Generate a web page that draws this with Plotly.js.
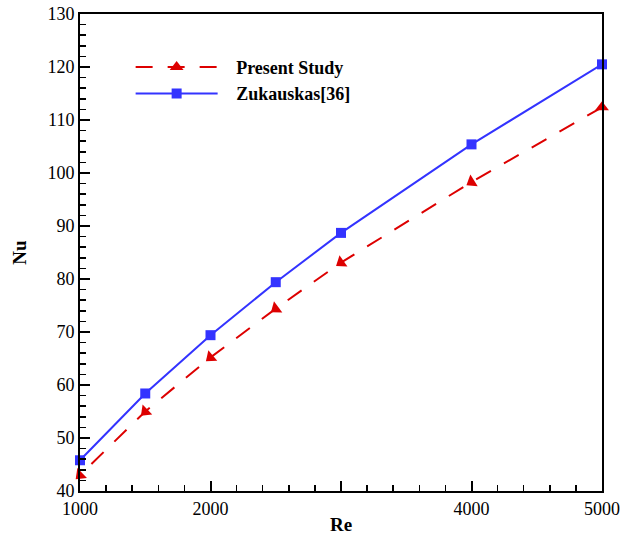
<!DOCTYPE html>
<html>
<head>
<meta charset="utf-8">
<script src="https://cdn.plot.ly/plotly-3.0.1.min.js"></script>
<style>html,body{margin:0;padding:0;background:#fff;}#chart{width:622px;height:536px;}</style>
</head>
<body>
<div id="chart"></div>
<script>
const reValues = [1000, 1500, 2000, 2500, 3000, 4000, 5000];
const presentStudy = [43.0, 55.0, 65.2, 74.4, 83.1, 98.3, 112.4];
const zukauskas = [45.8, 58.4, 69.4, 79.4, 88.7, 105.4, 120.5];
const seriesNames = ["Present Study", "Zukauskas[36]"];
const xTicks = [1000, 2000, 3000, 4000, 5000];
const xTickText = ["1000", "2000", "", "4000", "5000"];
const yTicks = [40, 50, 60, 70, 80, 90, 100, 110, 120, 130];
// marker rotation (style only): arrows point back along the dashed line, last one upright
const triangleAngles = [226, 226, 230, 233, 235, 238, 0];

const rev = a => a.slice().reverse();
const pad = '\u00a0'.repeat(3);

const traces = [
  {
    x: rev(reValues), y: rev(presentStudy), name: pad + seriesNames[0],
    type: 'scatter', mode: 'lines+markers', cliponaxis: false,
    line: {color: '#dd0000', width: 2, dash: '17px,15px'},
    marker: {symbol: 'triangle-up', size: 12, color: '#dd0000', angle: rev(triangleAngles)}
  },
  {
    x: reValues, y: zukauskas, name: pad + seriesNames[1],
    type: 'scatter', mode: 'lines+markers', cliponaxis: false,
    line: {color: '#3333ff', width: 2},
    marker: {symbol: 'square', size: 10, color: '#3333ff'}
  }
];

const axisCommon = {
  showline: true, mirror: true, linecolor: '#000', linewidth: 2,
  ticks: 'inside', ticklen: 10, tickwidth: 2, tickcolor: '#000',
  showgrid: false, zeroline: false,
  tickfont: {family: 'Liberation Serif', size: 18, color: '#000'}
};

const layout = {
  width: 622, height: 536,
  margin: {l: 79.5, r: 19.5, t: 14, b: 45},
  paper_bgcolor: '#fff', plot_bgcolor: '#fff',
  showlegend: true,
  legend: {
    x: 0.097, y: 0.927, xanchor: 'left', yanchor: 'top',
    bgcolor: 'rgba(0,0,0,0)', itemwidth: 82, tracegroupgap: 0,
    font: {family: 'Liberation Serif', size: 18, color: '#000', weight: 'bold'}
  },
  xaxis: Object.assign({}, axisCommon, {
    range: [1000, 5000], tickvals: xTicks, ticktext: xTickText,
    minor: {dtick: 200, ticks: 'inside', ticklen: 6, tickwidth: 1.5, tickcolor: '#000'},
    title: {text: '<b>Re</b>', standoff: 0, font: {family: 'Liberation Serif', size: 19, color: '#000'}}
  }),
  yaxis: Object.assign({}, axisCommon, {
    range: [40, 130], tickvals: yTicks, ticktext: yTicks.map(String),
    minor: {dtick: 2, ticks: 'inside', ticklen: 6, tickwidth: 1.5, tickcolor: '#000'},
    title: {text: '<b>Nu</b>', standoff: 16, font: {family: 'Liberation Serif', size: 19, color: '#000'}}
  })
};

Plotly.newPlot('chart', traces, layout, {displayModeBar: false, staticPlot: true});
</script>
</body>
</html>
